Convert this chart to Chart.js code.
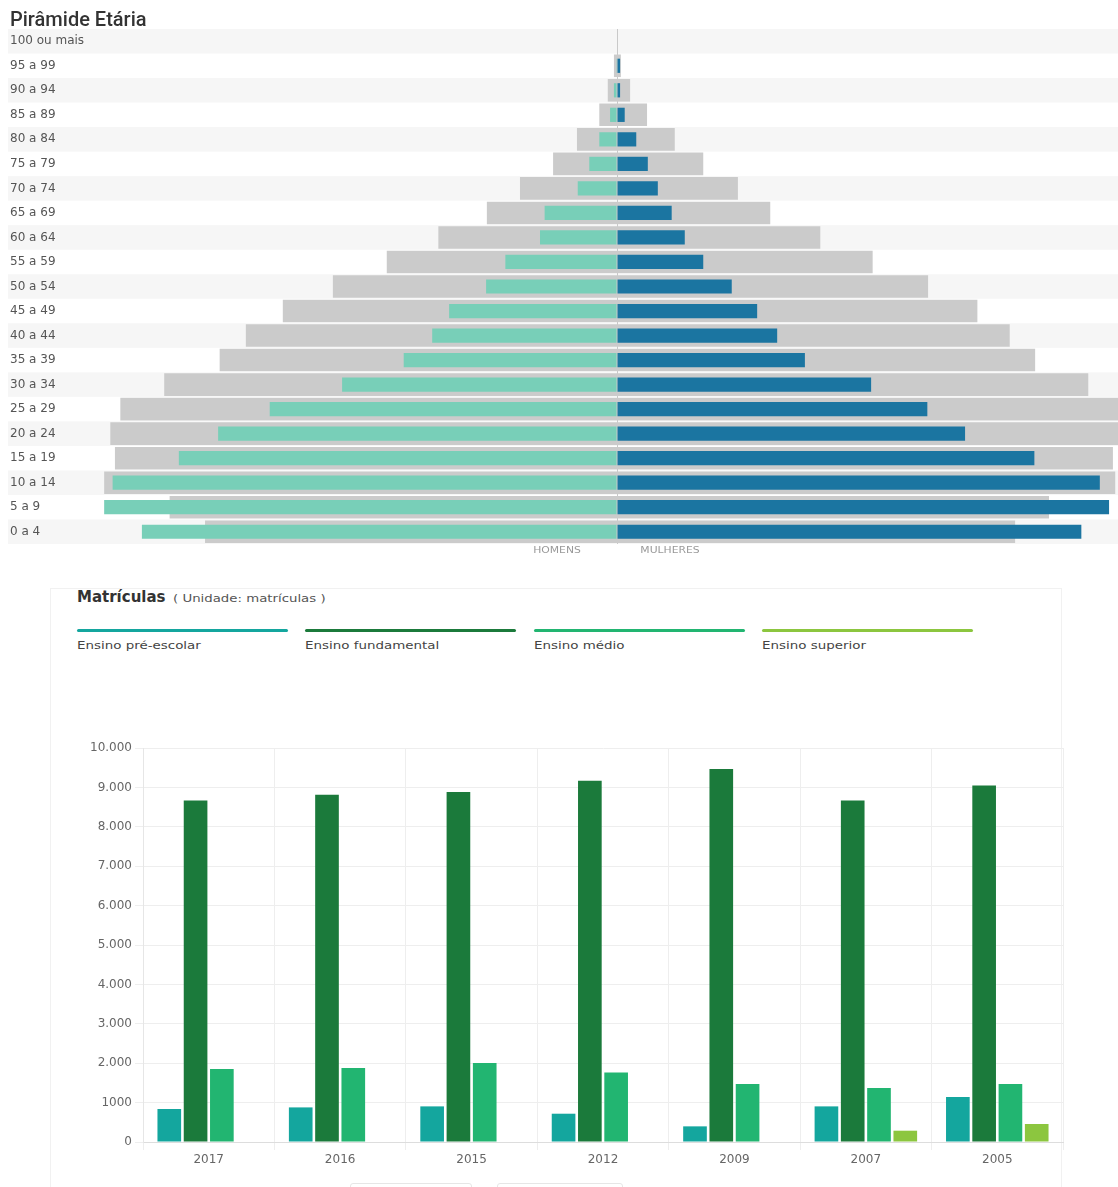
<!DOCTYPE html>
<html><head><meta charset="utf-8">
<script src="https://cdn.jsdelivr.net/npm/chart.js@4/dist/chart.umd.min.js"></script>
<style>
body{margin:0;background:#fff;width:1118px;height:1187px;position:relative;overflow:hidden;font-family:'DejaVu Sans','Liberation Sans',Arial,sans-serif;}
#pyrTitle{position:absolute;left:10px;top:7px;font-family:Roboto,'Liberation Sans',Arial;font-weight:500;font-size:20px;color:#333;}
#pyr{position:absolute;left:0;top:0;}
.axlab{position:absolute;top:545px;font-size:9px;color:#999;transform:translateX(-50%) scaleX(1.2);}
#card{position:absolute;left:50px;top:588px;width:1010px;height:640px;border:1px solid #f1f1f1;}
#barTitle{position:absolute;left:77px;top:588px;font-size:15px;font-weight:bold;color:#333;white-space:nowrap}
#barTitle span{display:inline-block;font-weight:normal;font-size:10px;color:#555;transform:scaleX(1.33);transform-origin:left center;margin-left:2px}
.item{position:absolute;top:629px;width:211px}
.line{height:3px;border-radius:1.5px}
.lab{font-size:11px;color:#444;margin-top:7px;white-space:nowrap;transform:scaleX(1.22);transform-origin:left center}
#bar{position:absolute;left:0;top:700px;}
.btn{position:absolute;top:1183px;height:20px;border:1px solid #e6e6e6;border-radius:3px}
</style></head>
<body>
<canvas id="pyr" width="1118" height="580"></canvas>
<div id="pyrTitle">Pirâmide Etária</div>
<div class="axlab" style="left:557px">HOMENS</div>
<div class="axlab" style="left:670px">MULHERES</div>
<div id="card"></div>
<div id="barTitle">Matrículas <span>( Unidade: matrículas )</span></div>
<div id="legend"></div>
<canvas id="bar" width="1118" height="487"></canvas>
<div class="btn" style="left:350px;width:120px"></div>
<div class="btn" style="left:497px;width:124px"></div>
<script>
// ---- Pirâmide Etária (percent of population) ----
const ageGroups = ['100 ou mais','95 a 99','90 a 94','85 a 89','80 a 84','75 a 79','70 a 74','65 a 69','60 a 64','55 a 59','50 a 54','45 a 49','40 a 44','35 a 39','30 a 34','25 a 29','20 a 24','15 a 19','10 a 14','5 a 9','0 a 4'];
const menShare   = [0, 0.01, 0.04, 0.09, 0.23, 0.36, 0.51, 0.94, 1.00, 1.45, 1.70, 2.18, 2.40, 2.77, 3.57, 4.51, 5.18, 5.69, 6.55, 6.66, 6.17];
const womenShare = [0, 0.04, 0.04, 0.10, 0.25, 0.40, 0.53, 0.71, 0.88, 1.12, 1.49, 1.82, 2.08, 2.44, 3.30, 4.03, 4.52, 5.42, 6.27, 6.39, 6.03];
const refMenShare   = [0, 0.04, 0.12, 0.23, 0.52, 0.83, 1.26, 1.69, 2.32, 2.99, 3.69, 4.34, 4.82, 5.16, 5.88, 6.45, 6.58, 6.52, 6.66, 5.81, 5.35];
const refWomenShare = [0, 0.05, 0.17, 0.39, 0.75, 1.12, 1.57, 1.99, 2.64, 3.32, 4.04, 4.68, 5.10, 5.43, 6.12, 6.75, 6.69, 6.44, 6.47, 5.61, 5.17];
const pyrMin = -6.714, pyrMax = 6.506;

// ---- Matrículas ----
const years = ['2017','2016','2015','2012','2009','2007','2005'];
const seriesNames = ['Ensino pré-escolar','Ensino fundamental','Ensino médio','Ensino superior'];
const preEscolar  = [838, 878, 904, 718, 397, 904, 1142];
const fundamental = [8670, 8815, 8883, 9170, 9467, 8670, 9051];
const medio       = [1853, 1878, 2005, 1767, 1472, 1370, 1472];
const superior    = [null, null, null, null, null, 287, 457];
const yTickLabels = ['0','1000','2.000','3.000','4.000','5.000','6.000','7.000','8.000','9.000','10.000'];
const seriesColors = ['#14a69e','#1b7a3b','#22b571','#8cc63f'];

const tickFont = {family:"'DejaVu Sans', 'Liberation Sans', Arial", size:12};

const stripes = {
  id:'stripes',
  beforeDraw(chart){
    const y = chart.scales.y, ctx = chart.ctx;
    const h = (y.bottom - y.top) / chart.data.labels.length;
    ctx.save();
    ctx.fillStyle = '#f6f6f6';
    chart.data.labels.forEach((l,i)=>{
      if(i % 2 === 0){
        const c = y.getPixelForValue(i);
        ctx.fillRect(8, c - h/2, chart.width - 8, h);
      }
    });
    ctx.restore();
  }
};

new Chart(document.getElementById('pyr'), {
  type:'bar',
  data:{
    labels: ageGroups,
    datasets:[
      {label:'Homens', data: menShare.map(v=>-v), backgroundColor:'#78cfb8', grouped:false, barPercentage:0.58, categoryPercentage:1},
      {label:'Mulheres', data: womenShare, backgroundColor:'#1b75a1', grouped:false, barPercentage:0.58, categoryPercentage:1},
      {label:'Referência', data: refMenShare.map((v,i)=>[-v, refWomenShare[i]]), backgroundColor:'#cbcbcb', grouped:false, barPercentage:0.92, categoryPercentage:1}
    ]
  },
  options:{
    indexAxis:'y', responsive:false, animation:false,
    layout:{padding:{left:10, right:0, top:29, bottom:36}},
    plugins:{legend:{display:false}, tooltip:{enabled:false}},
    scales:{
      x:{min:pyrMin, max:pyrMax, ticks:{display:false},
         grid:{drawTicks:false, lineWidth:1, color:c=>(c.tick && c.tick.value===0)?'#c9c9c9':'rgba(0,0,0,0)'},
         border:{display:false}},
      y:{ticks:{crossAlign:'far', font:tickFont, color:'#555', padding:0},
         grid:{display:false, drawTicks:false}, border:{display:false},
         afterFit(s){ s.width = 90; }}
    }
  },
  plugins:[stripes]
});

// legend
const lg = document.getElementById('legend');
const legendX = [77, 305, 534, 762];
seriesNames.forEach((n,i)=>{
  const d = document.createElement('div');
  d.className='item'; d.style.left = legendX[i]+'px';
  d.innerHTML = '<div class="line" style="background:'+seriesColors[i]+'"></div><div class="lab">'+n+'</div>';
  lg.appendChild(d);
});

const seriesValues = [preEscolar, fundamental, medio, superior];
new Chart(document.getElementById('bar'), {
  type:'bar',
  data:{
    labels: years,
    datasets: seriesNames.map((n,i)=>({label:n, data: seriesValues[i], backgroundColor: seriesColors[i], categoryPercentage:0.8, barPercentage:0.9}))
  },
  options:{
    responsive:false, animation:false,
    layout:{padding:{top:48, right:55, left:0, bottom:0}},
    plugins:{legend:{display:false}, tooltip:{enabled:false}},
    scales:{
      x:{grid:{color:'#eeeeee', tickLength:8}, border:{color:'#dddddd'},
         ticks:{font:tickFont, color:'#666'},
         afterFit(s){ s.height = 45; }},
      y:{min:0, max:10000,
         ticks:{stepSize:1000, callback:(v,i)=>yTickLabels[i], font:tickFont, color:'#666', padding:3},
         grid:{color:'#eeeeee', tickLength:8}, border:{color:'#e6e6e6'},
         afterFit(s){ s.width = 143; }}
    }
  }
});
</script>
</body></html>
